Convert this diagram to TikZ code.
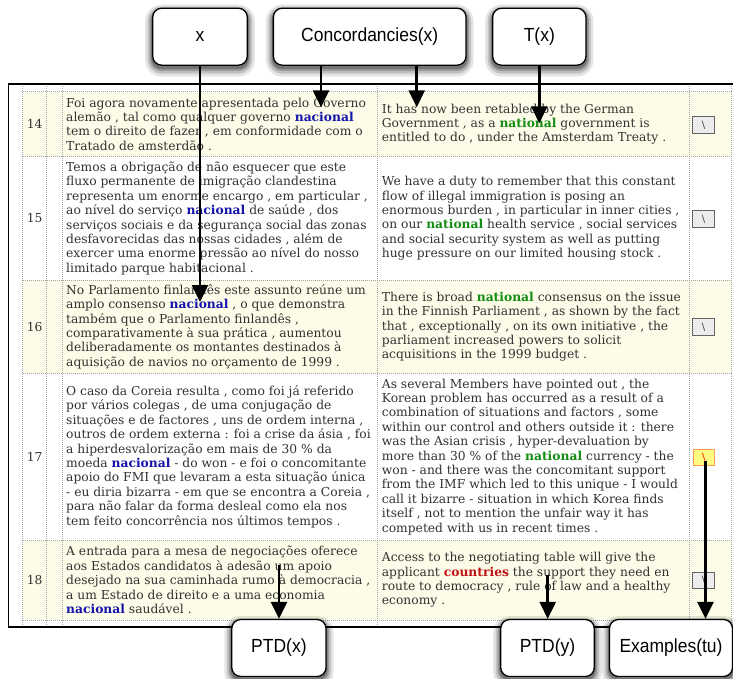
\documentclass[tikz,border=0pt]{standalone}
\usepackage{graphicx}
\usepackage{fontspec}
\setmainfont{DejaVu Serif}
\newfontfamily\boxfont{Liberation Sans}
\newfontfamily\btnfont{DejaVu Sans}
\usetikzlibrary{arrows.meta}
\definecolor{cream}{RGB}{252,252,232}
\definecolor{txt}{RGB}{50,50,50}
\definecolor{ptblue}{RGB}{20,20,170}
\definecolor{engreen}{RGB}{20,140,20}
\definecolor{enred}{RGB}{190,20,20}
\definecolor{dotgray}{RGB}{165,165,165}
\definecolor{btnfill}{RGB}{236,236,236}
\definecolor{btnline}{RGB}{100,100,100}
\definecolor{hlfill}{RGB}{255,250,130}
\definecolor{hlline}{RGB}{255,160,80}
\newcommand\ptnac[1]{{\bfseries\color{ptblue}#1}}
\newcommand\engnat[1]{{\bfseries\color{engreen}#1}}
\newcommand\engred[1]{{\bfseries\color{enred}#1}}
\newcommand\sqz[1]{\scalebox{0.92}[1]{#1}}
\begin{document}
\begin{tikzpicture}[x=1pt,y=-1pt,
  cell/.style={anchor=west, align=left, inner sep=0pt, text=txt, font=\fontsize{12.3}{14.4}\selectfont},
  num/.style={inner sep=0pt, text=txt, font=\fontsize{12.3}{14.4}\selectfont},
  btn/.style={draw=btnline, fill=btnfill, minimum width=21.5pt, minimum height=16.5pt, inner sep=0pt, line width=0.8pt, text=black!75, font=\btnfont\fontsize{10}{11}\selectfont},
  hlbtn/.style={btn, draw=hlline, fill=hlfill, text=red!80!orange},
  lbl/.style={draw, line width=1.3pt, fill=white, rounded corners=9pt, minimum height=57pt, inner sep=0pt,
    font=\boxfont\fontsize{19}{22}\selectfont,
    preaction={draw=black, draw opacity=0.10, line width=15pt, transform canvas={yshift=-4pt}},
    preaction={draw=black, draw opacity=0.15, line width=10pt, transform canvas={yshift=-3.5pt}},
    preaction={draw=black, draw opacity=0.20, line width=6pt, transform canvas={yshift=-3pt}},
    preaction={draw=black, draw opacity=0.25, line width=3pt, transform canvas={yshift=-2.5pt}}},
  arr/.style={line width=2.5pt, -{Triangle[width=16pt,length=17pt]}},
  grid/.style={dotgray, line width=0.6pt, dash pattern=on 1pt off 1pt}]
\useasboundingbox (0,0) rectangle (733,678);
\fill[white] (0,0) rectangle (733,678);
% row backgrounds
\fill[cream] (22.7,91.7) rectangle (731.7,156.7);
\fill[cream] (22.7,280) rectangle (731.7,373.3);
\fill[cream] (22.7,540) rectangle (731.7,620);
% grid
\foreach \yy in {91.7,156.7,280,373.3,540,620} \draw[grid] (22.7,\yy) -- (731.7,\yy);
\foreach \xx in {22.7,46.7,62.3,377.3,689.3,731.7} \draw[grid] (\xx,84) -- (\xx,627);
% table frame
\draw[line width=1.4pt] (734,84) -- (8.3,84) -- (8.3,627) -- (734,627);
% row 14
\node[num] (n14) at (34.7,124.2) {14};
\node[cell] (p14) at (66,124.2) {Foi agora novamente apresentada pelo Governo\\alemão , tal como qualquer governo \ptnac{nacional}\\tem o direito de fazer , em conformidade com o\\Tratado de amsterdão .};
\node[cell] (e14) at (381.7,124.2) {It has now been retabled by the German\\Government , as a \engnat{national} government is\\entitled to do , under the Amsterdam Treaty .};
\node[btn] (b14) at (703.5,125) {\textbackslash};
% row 15
\node[num] (n15) at (34.7,218.4) {15};
\node[cell] (p15) at (66,218.4) {Temos a obrigação de não esquecer que este\\fluxo permanente de imigração clandestina\\representa um enorme encargo , em particular ,\\ao nível do serviço \ptnac{nacional} de saúde , dos\\serviços sociais e da segurança social das zonas\\desfavorecidas das nossas cidades , além de\\exercer uma enorme pressão ao nível do nosso\\limitado parque habitacional .};
\node[cell] (e15) at (381.7,218.4) {We have a duty to remember that this constant\\flow of illegal immigration is posing an\\enormous burden , in particular in inner cities ,\\on our \engnat{national} health service , social services\\and social security system as well as putting\\huge pressure on our limited housing stock .};
\node[btn] (b15) at (703.5,219) {\textbackslash};
% row 16
\node[num] (n16) at (34.7,326.7) {16};
\node[cell] (p16) at (66,326.7) {No Parlamento finlandês este assunto reúne um\\amplo consenso \ptnac{nacional} , o que demonstra\\também que o Parlamento finlandês ,\\comparativamente à sua prática , aumentou\\deliberadamente os montantes destinados à\\aquisição de navios no orçamento de 1999 .};
\node[cell] (e16) at (381.7,326.7) {There is broad \engnat{national} consensus on the issue\\in the Finnish Parliament , as shown by the fact\\that , exceptionally , on its own initiative , the\\parliament increased powers to solicit\\acquisitions in the 1999 budget .};
\node[btn] (b16) at (703.5,327) {\textbackslash};
% row 17
\node[num] (n17) at (34.7,456.7) {17};
\node[cell] (p17) at (66,456.7) {O caso da Coreia resulta , como foi já referido\\por vários colegas , de uma conjugação de\\situações e de factores , uns de ordem interna ,\\outros de ordem externa : foi a crise da ásia , foi\\a hiperdesvalorização em mais de 30 \% da\\moeda \ptnac{nacional} - do won - e foi o concomitante\\apoio do FMI que levaram a esta situação única\\- eu diria bizarra - em que se encontra a Coreia ,\\para não falar da forma desleal como ela nos\\tem feito concorrência nos últimos tempos .};
\node[cell] (e17) at (381.7,456.7) {As several Members have pointed out , the\\Korean problem has occurred as a result of a\\combination of situations and factors , some\\within our control and others outside it : there\\was the Asian crisis , hyper-devaluation by\\more than 30 \% of the \engnat{national} currency - the\\won - and there was the concomitant support\\from the IMF which led to this unique - I would\\call it bizarre - situation in which Korea finds\\itself , not to mention the unfair way it has\\competed with us in recent times .};
\node[hlbtn] (b17) at (703.8,457.5) {\textbackslash};
% row 18
\node[num] (n18) at (34.7,580) {18};
\node[cell] (p18) at (66,580) {A entrada para a mesa de negociações oferece\\aos Estados candidatos à adesão um apoio\\desejado na sua caminhada rumo à democracia ,\\a um Estado de direito e a uma economia\\\ptnac{nacional} saudável .};
\node[cell] (e18) at (381.7,580) {Access to the negotiating table will give the\\applicant \engred{countries} the support they need en\\route to democracy , rule of law and a healthy\\economy .};
\node[btn] (b18) at (703.5,580.5) {\textbackslash};
% label boxes
\node[lbl, minimum width=94.6pt] (bx) at (200,36.7) {\sqz{x}};
\node[lbl, minimum width=192.7pt] (bc) at (369.7,36.7) {\sqz{Concordancies(x)}};
\node[lbl, minimum width=93.3pt] (bt) at (539.3,36.7) {\sqz{T(x)}};
\node[lbl, minimum width=94.3pt] (bpx) at (278.9,648) {\sqz{PTD(x)}};
\node[lbl, minimum width=93.6pt] (bpy) at (547.5,648) {\sqz{PTD(y)}};
\node[lbl, minimum width=123pt] (be) at (671,648) {\sqz{Examples(tu)}};
% arrow ends
\coordinate (xt) at (200,302);
\coordinate (c1) at (321,107.3);
\coordinate (c2) at (416.7,107.3);
\coordinate (t1) at (539.3,123.3);
\coordinate (s1) at (279,565);
\coordinate (s2) at (547.7,575);
\coordinate (s3) at (705.5,461);
\draw[arr] (bx.south) -- (xt);
\draw[arr] (bc.south -| c1) -- (c1);
\draw[arr] (bc.south -| c2) -- (c2);
\draw[arr] (bt.south) -- (t1);
\draw[arr] (s1) -- (s1 |- bpx.north);
\draw[arr] (s2) -- (s2 |- bpy.north);
\draw[arr] (s3) -- (s3 |- be.north);
\end{tikzpicture}
\end{document}
